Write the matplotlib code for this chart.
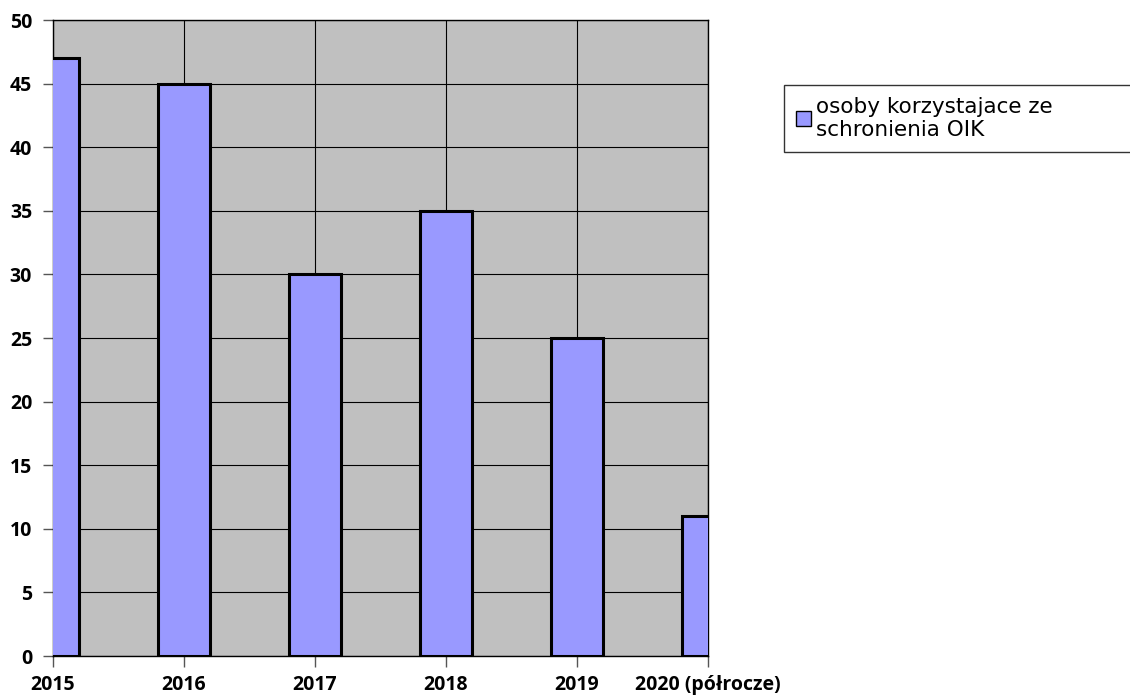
import matplotlib
matplotlib.use("Agg")
import matplotlib.pyplot as plt
import numpy as np

categories = ["2015", "2016", "2017", "2018", "2019", "2020 (półrocze)"]
values = [47, 45, 30, 35, 25, 11]
series_label = "osoby korzystajace ze\nschronienia OIK"

fig = plt.figure(figsize=(11.3, 6.95), dpi=100)
ax = fig.add_axes([53 / 1130, 39 / 695, 655 / 1130, 636 / 695])
ax.set_facecolor("#C0C0C0")

x = np.arange(len(categories))
bars = ax.bar(x, values, width=0.39, color="#9999FF", edgecolor="black",
              linewidth=2.2, label=series_label, zorder=3)

ax.set_xlim(0, len(categories) - 1)
ax.set_ylim(0, 50)
ax.set_yticks(np.arange(0, 51, 5))
ax.set_xticks(x)
ax.set_xticklabels(categories)
ax.grid(True, color="black", linewidth=0.8, zorder=0)
ax.set_axisbelow(True)

for lbl in ax.get_xticklabels() + ax.get_yticklabels():
    lbl.set_fontfamily("Open Sans")
    lbl.set_fontweight("bold")
    lbl.set_fontsize(14)

ax.tick_params(axis="y", direction="out", length=7, width=1, color="#555555", pad=8)
ax.tick_params(axis="x", direction="out", length=8, width=1, color="#555555", pad=6)
for s in ax.spines.values():
    s.set_color("black")
    s.set_linewidth(1)

leg = fig.legend(handles=[bars], labels=[series_label], loc="upper left",
                 bbox_to_anchor=(784 / 1130, 1 - 154 / 695, 347 / 1130, 69 / 695),
                 mode="expand", borderaxespad=0, fancybox=False, frameon=True,
                 prop={"family": "DejaVu Sans", "size": 15.5},
                 handlelength=0.7, handleheight=0.7, handletextpad=0.25,
                 borderpad=0.55, labelspacing=0.2)
leg.get_frame().set_edgecolor("black")
leg.get_frame().set_linewidth(1)
leg.legend_handles[0].set_linewidth(1)

fig.savefig("out.png", dpi=100)
